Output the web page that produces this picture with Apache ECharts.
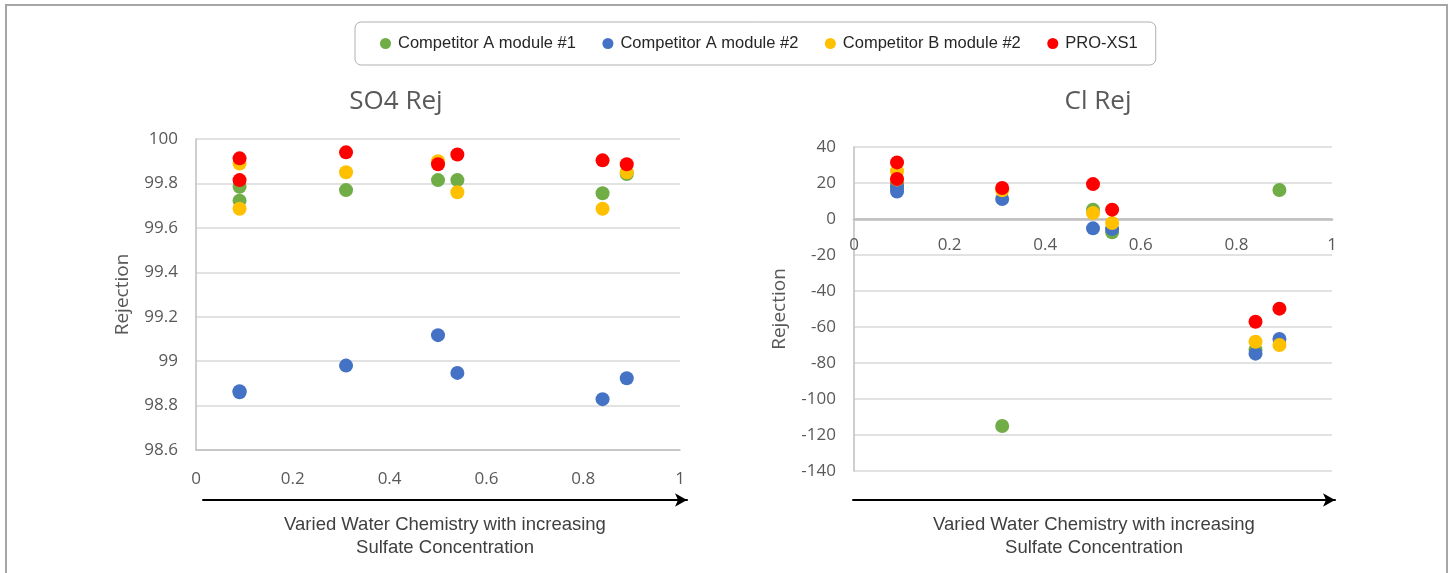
<!DOCTYPE html>
<html>
<head>
<meta charset="utf-8">
<script src="https://cdn.jsdelivr.net/npm/echarts@6/dist/echarts.min.js"></script>
<style>
  html, body { margin: 0; padding: 0; background: #fff; }
  #main { width: 1450px; height: 573px; }
</style>
</head>
<body>
<div id="main"></div>
<script>
// sample positions along the x axis (two runs at 0.09)
var xPos = [0.09, 0.09, 0.31, 0.50, 0.54, 0.84, 0.89];
var seriesNames = ['Competitor A module #1', 'Competitor A module #2', 'Competitor B module #2', 'PRO-XS1'];
var seriesColors = ['#70AD47', '#4472C4', '#FFC000', '#FF0000'];

// SO4 rejection (%)
var so4CompA1 = [99.785, 99.722, 99.77, 99.815, 99.815, 99.756, 99.842];
var so4CompA2 = [98.86, 98.865, 98.98, 99.117, 98.947, 98.829, 98.923];
var so4CompB2 = [99.89, 99.686, 99.85, 99.90, 99.76, 99.686, 99.85];
var so4ProXS1 = [99.913, 99.815, 99.94, 99.886, 99.93, 99.904, 99.886];

// Cl rejection (%)
var clCompA1 = [20, 17, -115, 5.2, -7.4, -72.6, 16.1];
var clCompA2 = [18.1, 15.3, 11.1, -5.2, -5.6, -74.8, -66.7];
var clCompB2 = [26.5, 22, 16, 3.3, -2.2, -68.2, -70];
var clProXS1 = [31.45, 22.2, 17.2, 19.4, 5.2, -57.1, -49.8];

var so4Data = [so4CompA1, so4CompA2, so4CompB2, so4ProXS1];
var clData = [clCompA1, clCompA2, clCompB2, clProXS1];

var chart = echarts.init(document.getElementById('main'));

var tickFont = 'Open Sans';
var tickColor = '#595959';
var gridLine = { show: true, lineStyle: { color: '#d9d9d9', width: 1.5 } };
var captionText = 'Varied Water Chemistry with increasing\nSulfate Concentration';

function pairs(ys) {
    return ys.map(function (y, i) { return [xPos[i], y]; });
}

function valueXAxis(gridIndex, margin) {
    return {
        type: 'value', gridIndex: gridIndex,
        min: 0, max: 1, interval: 0.2,
        splitLine: { show: false },
        axisTick: { show: false },
        axisLine: { show: true, onZero: false, lineStyle: { color: '#bfbfbf', width: 1.5 } },
        axisLabel: { color: tickColor, fontFamily: tickFont, fontSize: 17, margin: margin }
    };
}

function valueYAxis(gridIndex, min, max, interval, gap) {
    return {
        type: 'value', gridIndex: gridIndex,
        min: min, max: max, interval: interval,
        name: 'Rejection',
        nameLocation: 'middle',
        nameGap: gap,
        nameTextStyle: { color: tickColor, fontFamily: tickFont, fontSize: 19 },
        splitLine: gridLine,
        axisTick: { show: false },
        axisLine: { show: true, lineStyle: { color: '#bfbfbf', width: 1.5 } },
        axisLabel: { color: tickColor, fontFamily: tickFont, fontSize: 17, margin: 18 }
    };
}

// arrow axis underneath each panel, caption as its name
function arrowXAxis(gridIndex) {
    return {
        type: 'value', gridIndex: gridIndex,
        min: 0, max: 1,
        name: captionText,
        nameLocation: 'middle',
        nameGap: 13,
        nameTextStyle: { color: '#404040', fontFamily: 'Liberation Sans', fontSize: 18.5, lineHeight: 23 },
        splitLine: { show: false },
        axisTick: { show: false },
        axisLabel: { show: false },
        axisLine: {
            show: true, onZero: false,
            symbol: ['none', 'arrow'],
            symbolSize: [10, 12],
            lineStyle: { color: '#000', width: 2 }
        }
    };
}

var series = [];
so4Data.forEach(function (ys, i) {
    series.push({
        name: seriesNames[i], type: 'scatter',
        xAxisIndex: 0, yAxisIndex: 0,
        symbolSize: 14,
        itemStyle: { color: seriesColors[i], opacity: 1 },
        data: pairs(ys)
    });
});
clData.forEach(function (ys, i) {
    series.push({
        name: seriesNames[i], type: 'scatter',
        xAxisIndex: 1, yAxisIndex: 1,
        symbolSize: 14,
        itemStyle: { color: seriesColors[i], opacity: 1 },
        data: pairs(ys)
    });
});

var leftX = valueXAxis(0, 21);
// Cl panel: the x axis sits on the zero line (grid height 324, zero 72px below top)
var rightX = valueXAxis(1, 18);
rightX.offset = -252;
rightX.axisLine.lineStyle = { color: '#bfbfbf', width: 2.5 };

var option = {
    animation: false,
    backgroundColor: '#fff',
    color: seriesColors,
    title: [
        {
            text: 'SO4 Rej', left: 391, top: 84, textAlign: 'center',
            textStyle: { color: tickColor, fontFamily: tickFont, fontSize: 26, fontWeight: 'normal' }
        },
        {
            text: 'Cl Rej', left: 1093, top: 84, textAlign: 'center',
            textStyle: { color: tickColor, fontFamily: tickFont, fontSize: 26, fontWeight: 'normal' }
        }
    ],
    legend: {
        data: seriesNames,
        left: 355, top: 22,
        padding: [13, 18, 13, 25],
        borderColor: '#b0b0b0', borderWidth: 1, borderRadius: 6,
        icon: 'circle', itemWidth: 15, itemHeight: 11, itemGap: 26.5,
        textStyle: { color: '#262626', fontFamily: 'Liberation Sans', fontSize: 16.5 }
    },
    graphic: [{
        type: 'rect', silent: true,
        shape: { x: 6, y: 5, width: 1441, height: 600 },
        style: { fill: 'none', stroke: '#a6a6a6', lineWidth: 2 }
    }],
    grid: [
        { left: 196, top: 139, width: 484, height: 311 },
        { left: 854, top: 147, width: 478, height: 324 },
        { left: 203, top: 499, width: 484, height: 1 },
        { left: 853, top: 499, width: 482, height: 1 }
    ],
    xAxis: [leftX, rightX, arrowXAxis(2), arrowXAxis(3)],
    yAxis: [
        valueYAxis(0, 98.6, 100, 0.2, 64),
        valueYAxis(1, -140, 40, 20, 65),
        { type: 'value', gridIndex: 2, show: false, min: 0, max: 1 },
        { type: 'value', gridIndex: 3, show: false, min: 0, max: 1 }
    ],
    series: series
};

chart.setOption(option);
</script>
</body>
</html>
